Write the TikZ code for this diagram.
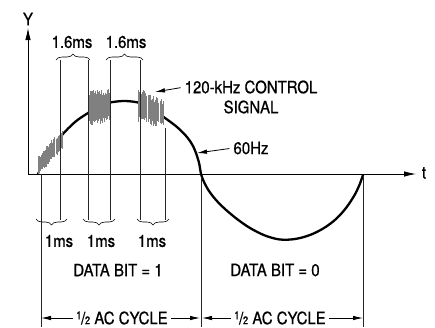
\documentclass[tikz,border=0pt]{standalone}
\usepackage{fontspec}
\setmainfont[FakeStretch=0.88,FakeBold=0.7]{TeX Gyre Heros}
\usetikzlibrary{arrows.meta,decorations.pathreplacing}
\newcommand\myhalf{\raisebox{0.55ex}{\fontsize{11}{11}\selectfont 1}\kern-0.5pt/\kern-0.5pt{\fontsize{11}{11}\selectfont 2}}
\begin{document}
\begin{tikzpicture}[x=1pt,y=-1pt,
  lbl/.style={font=\fontsize{17}{19}\selectfont, inner sep=0pt},
  guide/.style={line width=0.6pt, black!85},
  wave/.style={line width=2.3pt, line cap=round},
  arr/.style={-{Latex[length=10pt,width=4.5pt]}, line width=0.8pt},
  axisarr/.style={-{Latex[length=12pt,width=5.5pt]}, line width=0.8pt},
  brc/.style={decorate, decoration={brace, amplitude=6pt}, line width=0.6pt},
  hatch/.style={line width=0.45pt, black!50}]
\useasboundingbox (0,0) rectangle (435,327);

% 60 Hz wave
\draw[wave] plot[smooth, tension=0.55] coordinates {
  (38,174) (44,163) (50,153) (56,144) (62,135) (75,122) (88,113) (100,106)
  (110,102.5) (125,101) (140,103) (152,109) (165,118) (177,127) (187,137)
  (193,146) (197,156) (199.5,165) (201,174) (204,182) (209,191) (216,200)
  (225,209) (237,219) (250,228) (265,235.5) (280,239.5) (295,239) (310,235)
  (324,228) (336,219) (346,208) (354,196) (359,186) (363,175)};

% 120 kHz bursts
\pgfmathsetseed{11}
\foreach \xa/\xb/\ca/\cb/\ha/\hb in {38/62/165/140/10/12, 88/110/108/105/20/17, 138/163/105/114/18/14}{
  \fill[white] (\xa,{\ca-\ha}) -- (\xb,{\cb-\hb}) -- (\xb,{\cb+\hb}) -- (\xa,{\ca+\ha}) -- cycle;
  \foreach \i in {0,...,23}{
    \pgfmathsetmacro\tt{\i/23}
    \pgfmathsetmacro\xx{\xa+(\xb-\xa)*\tt}
    \pgfmathsetmacro\cc{\ca+(\cb-\ca)*\tt}
    \pgfmathsetmacro\hh{\ha+(\hb-\ha)*\tt}
    \pgfmathsetmacro\yt{\cc-\hh*(0.6+0.4*rnd)}
    \pgfmathsetmacro\yb{\cc+\hh*(0.6+0.4*rnd)}
    \draw[hatch] (\xx,\yt) -- (\xx,\yb);
  }
}

% axes
\coordinate (O) at (28,174);
\coordinate (ytip) at (28,28);
\coordinate (ttip) at (416,174);
\draw[axisarr] (O) -- (ytip);
\draw[axisarr] (O) -- (ttip);
\node[lbl] (ylab) at (28,19) {Y};
\node[lbl] (tlab) at (424,173) {t};

% guide lines
\foreach \x/\ya/\yb [count=\k] in {41/174/327, 60/60/220, 88/60/220, 110/60/220, 140/60/220, 165/128/220, 201/177/327, 363/177/327}{
  \draw[guide] (\x,\ya) coordinate (gt\k) -- (\x,\yb) coordinate (gb\k);
}

% braces (top: 1.6 ms, bottom: 1 ms)
\coordinate (ba1) at (56,60);  \coordinate (bb1) at (90,60);
\coordinate (ba2) at (106,60); \coordinate (bb2) at (143,60);
\draw[brc] (ba1) -- (bb1);
\draw[brc] (ba2) -- (bb2);
\coordinate (ca1) at (36,219);  \coordinate (cb1) at (67,219);
\coordinate (ca2) at (83,219);  \coordinate (cb2) at (115,219);
\coordinate (ca3) at (137,219); \coordinate (cb3) at (169,219);
\draw[brc] (cb1) -- (ca1);
\draw[brc] (cb2) -- (ca2);
\draw[brc] (cb3) -- (ca3);

\node[lbl] (t16a) at (72,42) {1.6ms};
\node[lbl] (t16b) at (126,42) {1.6ms};
\node[lbl] (t1a) at (59,241) {1ms};
\node[lbl] (t1b) at (101,241) {1ms};
\node[lbl] (t1c) at (152,241) {1ms};

% annotations
\node[lbl] (ctl) at (251,87) {120-kHz CONTROL};
\node[lbl] (sig) at (251,107) {SIGNAL};
\coordinate (ctltip) at (155,92);
\draw[arr, shorten <=4pt] (ctl.west) -- (ctltip);
\node[lbl] (hz) at (251,148) {60Hz};
\coordinate (hztip) at (197,153);
\draw[arr, shorten <=4pt] (hz.west) -- (hztip);

\node[lbl] (db1) at (118,270) {DATA BIT = 1};
\node[lbl] (db0) at (275,270) {DATA BIT = 0};

\node[lbl] (hc1) at (122,318) {\myhalf\ AC CYCLE};
\node[lbl] (hc2) at (280,318) {\myhalf\ AC CYCLE};
\coordinate (l1) at (41,318);  \coordinate (r1) at (200,318);
\coordinate (l2) at (202,318); \coordinate (r2) at (363,318);
\draw[arr, shorten <=3pt] (hc1.west) -- (l1);
\draw[arr, shorten <=3pt] (hc1.east) -- (r1);
\draw[arr, shorten <=3pt] (hc2.west) -- (l2);
\draw[arr, shorten <=3pt] (hc2.east) -- (r2);
\end{tikzpicture}
\end{document}
